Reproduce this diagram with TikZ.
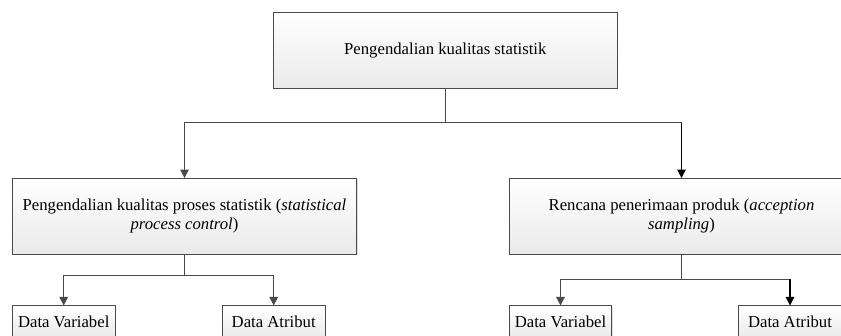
\documentclass[tikz,border=0pt]{standalone}
\usepackage{fontspec}
\setmainfont{Liberation Serif}
\usetikzlibrary{arrows.meta,shadows}
\definecolor{lncol}{HTML}{4A4A4A}
\definecolor{boxbot}{HTML}{EAEAEA}
\tikzset{
  box/.style={draw=lncol, line width=1pt, top color=white, bottom color=boxbot,
    inner sep=0pt, outer sep=0pt, align=center,
    drop shadow={opacity=0.25, shadow xshift=1pt, shadow yshift=-1pt},
    font=\fontsize{16.7}{19.5}\selectfont},
  bigbox/.style={box, minimum width=344.4pt, minimum height=76.3pt},
  smallbox/.style={box, minimum width=102.7pt, minimum height=33pt},
  ln/.style={draw=lncol, line width=1.2pt},
  arr/.style={ln, -{Triangle[width=8.5pt,length=8.5pt]}},
  arrb/.style={draw=black, line width=1.2pt, -{Triangle[width=8.5pt,length=8.5pt]}}
}
\begin{document}
\begin{tikzpicture}[x=1pt,y=-1pt]
\useasboundingbox (0,0) rectangle (841,336);
\clip (0,0) rectangle (841,336);
\node[bigbox, minimum width=344pt, minimum height=76pt] (top) at (445.3,50.3) {Pengendalian kualitas statistik};
\node[bigbox] (lmid) at (184.5,216.2) {Pengendalian kualitas proses statistik (\textit{statistical}\\\textit{process control})};
\node[bigbox] (rmid) at (681.5,216.2) {Rencana penerimaan produk (\textit{acception}\\\textit{sampling})};
\node[smallbox] (lvar) at (63.7,322) {Data Variabel};
\node[smallbox] (latr) at (273.7,322) {Data Atribut};
\node[smallbox] (rvar) at (560.5,322) {Data Variabel};
\node[smallbox] (ratr) at (790,322) {Data Atribut};
\coordinate (j1) at (0,122.7);
\coordinate (j2) at (0,275.7);
\coordinate (j3) at (0,279.3);
\draw[arr] (top.south) |- (j1 -| lmid.north) -- (lmid.north);
\draw[ln] (top.south) |- (j1 -| rmid.north);
\draw[arrb] (j1 -| rmid.north) -- (rmid.north);
\draw[arr] (lmid.south) |- (j2 -| lvar.north) -- (lvar.north);
\draw[arr] (lmid.south) |- (j2 -| latr.north) -- (latr.north);
\draw[arr] (rmid.south) |- (j3 -| rvar.north) -- (rvar.north);
\draw[ln] (rmid.south) |- (j3 -| ratr.north);
\draw[arrb] (j3 -| ratr.north) -- (ratr.north);
\end{tikzpicture}
\end{document}
